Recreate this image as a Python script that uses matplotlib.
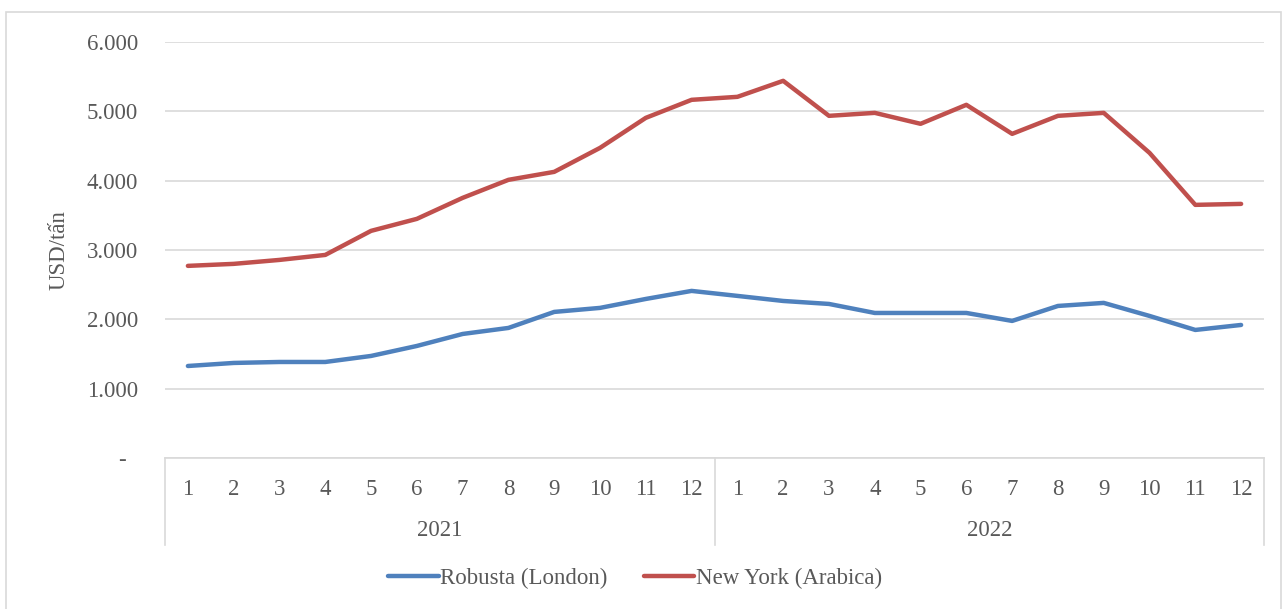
import matplotlib
matplotlib.use("Agg")
import matplotlib.pyplot as plt
from matplotlib.patches import Rectangle
import matplotlib.transforms as mtransforms

months = [str(m) for m in range(1, 13)] * 2
years = ["2021", "2022"]
robusta = [1327, 1371, 1385, 1385, 1472, 1616, 1789, 1876, 2107, 2165, 2294, 2410,
           2338, 2265, 2222, 2092, 2092, 2092, 1977, 2193, 2237, 2049, 1847, 1919]
arabica = [2771, 2800, 2857, 2929, 3276, 3449, 3752, 4012, 4127, 4473, 4906, 5166,
           5209, 5440, 4935, 4978, 4820, 5094, 4675, 4935, 4978, 4401, 3651, 3665]
yticks = [0, 1000, 2000, 3000, 4000, 5000, 6000]
ytick_labels = ["-", "1.000", "2.000", "3.000", "4.000", "5.000", "6.000"]

plt.rcParams['font.family'] = ['Liberation Serif', 'DejaVu Serif']
txt = "#595959"
grid = "#d9d9d9"
fs = 16.5

W, H = 1287, 609
fig = plt.figure(figsize=(W / 100, H / 100), dpi=100)
fig.patches.append(Rectangle((6 / W, -0.05), (1281 - 6) / W, (H - 12) / H + 0.05, transform=fig.transFigure,
                             fill=False, edgecolor=grid, linewidth=1.2))

ax = fig.add_axes([165 / W, 1 - 458 / H, (1264 - 165) / W, (458 - 42) / H])
x = list(range(len(months)))
ax.plot(x, robusta, color="#4F81BD", lw=3.2, solid_capstyle="round", label="Robusta (London)", zorder=3)
ax.plot(x, arabica, color="#C0504D", lw=3.2, solid_capstyle="round", label="New York (Arabica)", zorder=3)

ax.set_xlim(-0.5, len(months) - 0.5)
ax.set_ylim(0, 6000)
ax.set_yticks(yticks)
ax.set_yticklabels(["-  "] + ytick_labels[1:])
ax.yaxis.grid(True, color=grid, lw=1.2)
ax.set_axisbelow(True)
for s in ["top", "right", "left"]:
    ax.spines[s].set_visible(False)
ax.spines["bottom"].set_color(grid)
ax.spines["bottom"].set_linewidth(1.2)
ax.tick_params(axis="y", length=0, pad=19.5, labelsize=fs, labelcolor=txt)
ax.set_xticks(x)
ax.set_xticklabels(months)
ax.tick_params(axis="x", length=0, pad=15, labelsize=fs, labelcolor=txt)
ax.set_ylabel("USD/tấn", fontsize=fs, color=txt, labelpad=12)

trans = mtransforms.blended_transform_factory(ax.transData, ax.transAxes)
depth = (545 - 458) / (458 - 42)
for xb in [-0.5, 11.5, 23.5]:
    ax.plot([xb, xb], [0, -depth], transform=trans, color=grid, lw=1.2, clip_on=False)
for i, yr in enumerate(years):
    ax.text(i * 12 + 5.5, -(530 - 458) / (458 - 42), yr, transform=trans, ha="center", va="center",
            fontsize=fs, color=txt)

fig.legend(loc="center", bbox_to_anchor=(635 / W, 1 - 578 / H), ncol=2, frameon=False,
           fontsize=fs, labelcolor=txt, handlelength=2.2, handletextpad=0.05, columnspacing=1.6)

fig.savefig("out.png", dpi=100)
